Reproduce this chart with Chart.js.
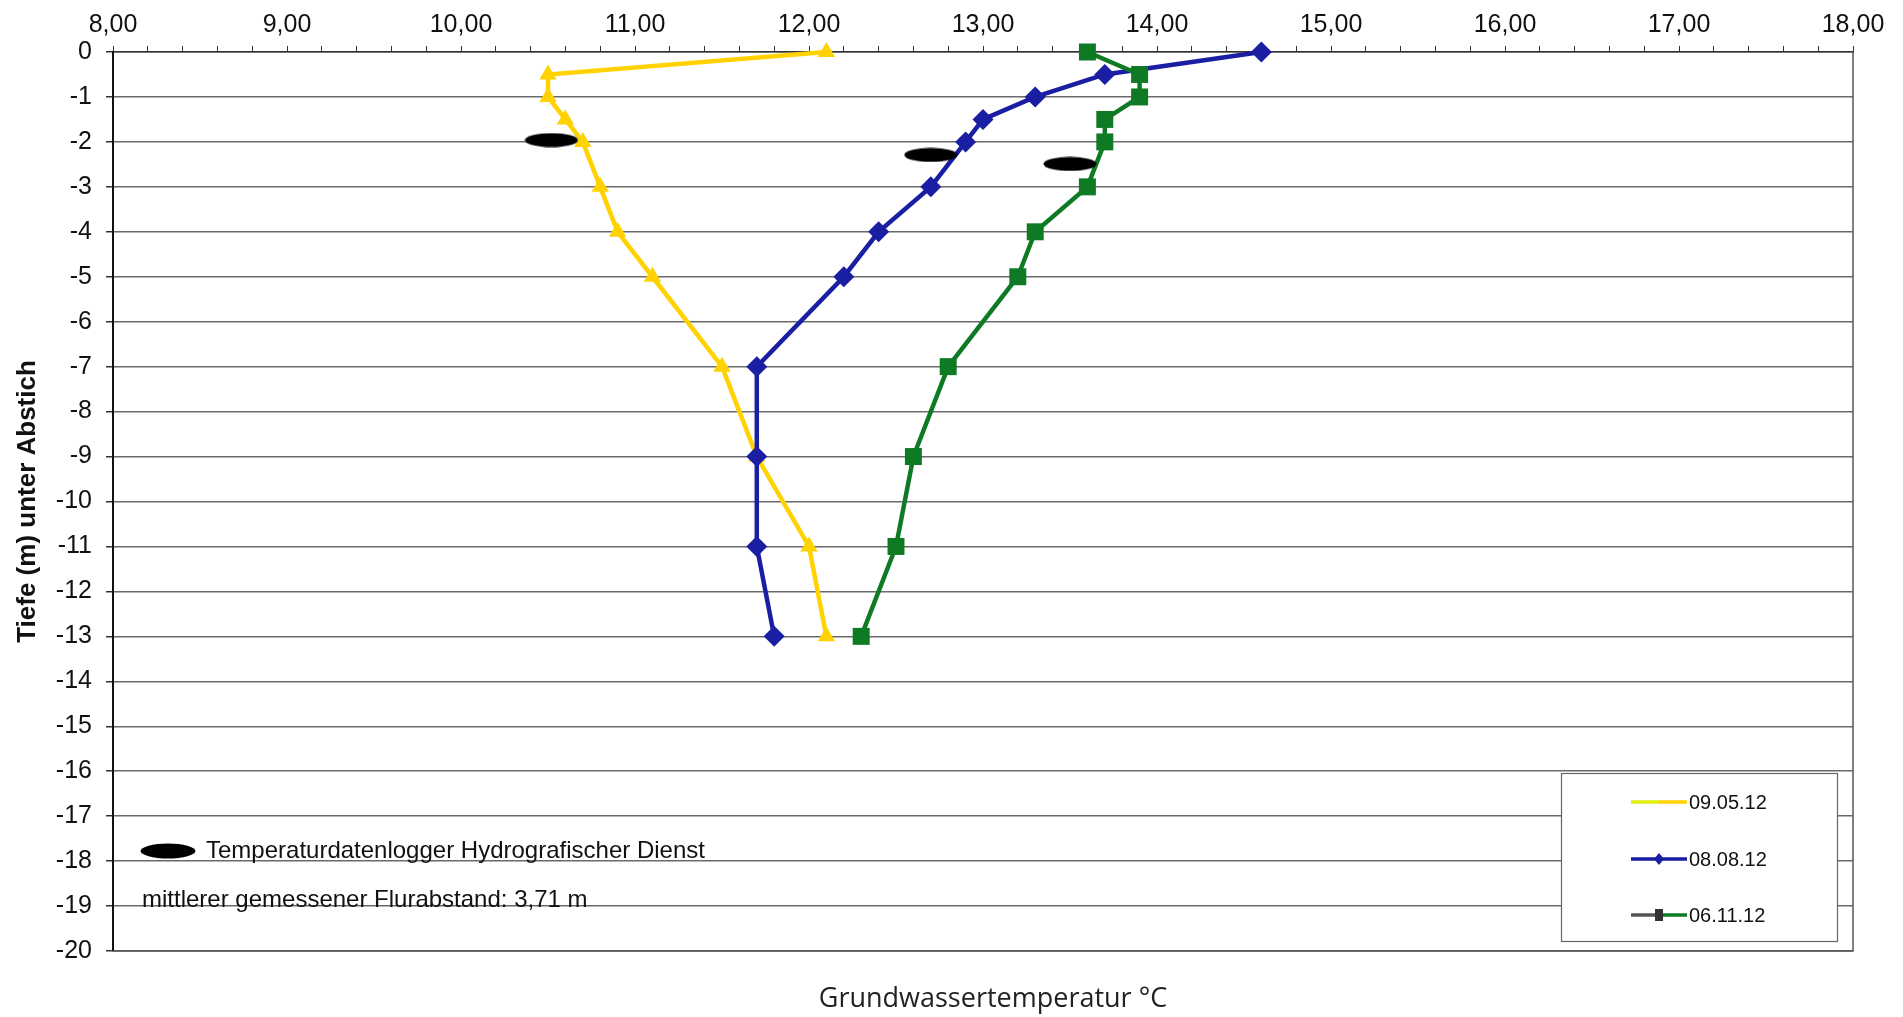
<!DOCTYPE html>
<html>
<head>
<meta charset="utf-8">
<script src="https://cdn.jsdelivr.net/npm/chart.js@4.4.1/dist/chart.umd.min.js"></script>
<style>
  html, body { margin: 0; padding: 0; background: #fff; }
  #chart { display: block; }
</style>
</head>
<body>
<canvas id="chart" width="1903" height="1017" style="width:1903px;height:1017px"></canvas>
<script>
// Depths (m below Abstich) shared by all three measurement dates
const depths = [0, -0.5, -1, -1.5, -2, -3, -4, -5, -7, -9, -11, -13];
const temp090512 = [12.1, 10.5, 10.5, 10.6, 10.7, 10.8, 10.9, 11.1, 11.5, 11.7, 12.0, 12.1];
const temp080812 = [14.6, 13.7, 13.3, 13.0, 12.9, 12.7, 12.4, 12.2, 11.7, 11.7, 11.7, 11.8];
const temp061112 = [13.6, 13.9, 13.9, 13.7, 13.7, 13.6, 13.3, 13.2, 12.8, 12.6, 12.5, 12.3];
const seriesLabels = ['09.05.12', '08.08.12', '06.11.12'];

// Temperature loggers (Hydrografischer Dienst)
const loggerTemps = [10.52, 12.7, 13.5];
const loggerDepths = [-1.96, -2.29, -2.49];

const xTickMin = 8;
const xTickMax = 18;
const yTickMin = -20;
const yTickMax = 0;

const noteLogger = 'Temperaturdatenlogger Hydrografischer Dienst';
const noteFlur = 'mittlerer gemessener Flurabstand: 3,71 m';
const xTitle = 'Grundwassertemperatur °C';
const yTitle = 'Tiefe (m) unter Abstich';

const YELLOW = '#FFD200';
const BLUE = '#1A1EA2';
const GREEN = '#0E7A24';
const FONT = '"Liberation Sans", Arial, sans-serif';

document.addEventListener('DOMContentLoaded', function() {
  const toPoints = (xs, ys) => xs.map((x, i) => ({ x: x, y: ys[i] }));

  // black ellipse used as logger marker
  function makeEllipse(w, h) {
    const c = document.createElement('canvas');
    c.width = w;
    c.height = h;
    const g = c.getContext('2d');
    g.fillStyle = '#000';
    g.beginPath();
    g.ellipse(w / 2, h / 2, w / 2 - 0.5, h / 2 - 0.5, 0, 0, Math.PI * 2);
    g.fill();
    return c;
  }
  const ellipse = makeEllipse(54, 15);
  const legendEllipse = makeEllipse(56, 16);

  // frame, legend box, notes and bottom title
  const extras = {
    id: 'extras',
    afterDraw(chart) {
      const { ctx, chartArea: a } = chart;
      ctx.save();

      ctx.strokeStyle = '#555';
      ctx.lineWidth = 1.5;
      ctx.beginPath();
      ctx.moveTo(a.right, a.top);
      ctx.lineTo(a.right, a.bottom);
      ctx.lineTo(a.left, a.bottom);
      ctx.stroke();

      // legend
      const lx = 1561, ly = 773, lw = 276, lh = 168;
      ctx.fillStyle = '#fff';
      ctx.fillRect(lx, ly, lw, lh);
      ctx.strokeStyle = '#666';
      ctx.lineWidth = 1.2;
      ctx.strokeRect(lx + 0.5, ly + 0.5, lw, lh);

      const rows = [802, 859, 915];
      const left = [ '#E2EE10', BLUE, '#555' ];
      const right = [ YELLOW, BLUE, GREEN ];
      ctx.font = '20px ' + FONT;
      ctx.textBaseline = 'middle';
      ctx.textAlign = 'left';
      rows.forEach((y, i) => {
        ctx.lineWidth = 3.5;
        ctx.strokeStyle = left[i];
        ctx.beginPath(); ctx.moveTo(1631, y); ctx.lineTo(1659, y); ctx.stroke();
        ctx.strokeStyle = right[i];
        ctx.beginPath(); ctx.moveTo(1659, y); ctx.lineTo(1687, y); ctx.stroke();
        if (i === 1) {
          ctx.fillStyle = BLUE;
          ctx.beginPath();
          ctx.moveTo(1659, y - 6); ctx.lineTo(1664, y); ctx.lineTo(1659, y + 6); ctx.lineTo(1654, y);
          ctx.fill();
        } else if (i === 2) {
          ctx.fillStyle = '#333';
          ctx.fillRect(1655, y - 6, 8, 12);
        }
        ctx.fillStyle = '#111';
        ctx.fillText(seriesLabels[i], 1689, y + 1);
      });

      // notes
      ctx.drawImage(legendEllipse, 140, 843);
      ctx.fillStyle = '#111';
      ctx.font = '24px ' + FONT;
      ctx.fillText(noteLogger, 206, 851);
      ctx.fillText(noteFlur, 142, 900);

      // x title below the plot
      ctx.font = '27px "Open Sans", ' + FONT;
      ctx.textAlign = 'center';
      ctx.fillStyle = '#222';
      ctx.fillText(xTitle, 993, 999);

      ctx.restore();
    }
  };

  const lineSet = (label, temps, color, style, radius, order) => ({
    label: label,
    data: toPoints(temps, depths),
    borderColor: color,
    backgroundColor: color,
    borderWidth: 4.5,
    pointStyle: style,
    pointRadius: radius,
    pointBorderWidth: 0,
    showLine: true,
    tension: 0,
    clip: false,
    order: order
  });

  new Chart(document.getElementById('chart'), {
    type: 'scatter',
    data: {
      datasets: [
        lineSet(seriesLabels[0], temp090512, YELLOW, 'triangle', 10, 3),
        lineSet(seriesLabels[1], temp080812, BLUE, 'rectRot', 10.5, 2),
        lineSet(seriesLabels[2], temp061112, GREEN, 'rect', 12, 1),
        {
          label: 'Logger',
          data: toPoints(loggerTemps, loggerDepths),
          pointStyle: ellipse,
          pointRadius: 10,
          showLine: false,
          clip: false,
          order: 0
        }
      ]
    },
    options: {
      responsive: false,
      animation: false,
      devicePixelRatio: 1,
      layout: { padding: { left: 0, top: 0, right: 50, bottom: 66 } },
      plugins: {
        legend: { display: false },
        tooltip: { enabled: false }
      },
      scales: {
        x: {
          type: 'linear',
          position: 'top',
          min: xTickMin,
          max: xTickMax,
          afterFit: (scale) => { scale.height = 52; },
          grid: {
            drawOnChartArea: false,
            drawTicks: true,
            tickLength: 6,
            tickColor: '#333',
            tickWidth: 1
          },
          border: { color: '#333', width: 1.5 },
          ticks: {
            stepSize: 0.2,
            autoSkip: false,
            maxRotation: 0,
            padding: 6,
            color: '#111',
            font: { family: FONT, size: 25 },
            callback: function(v) {
              return Math.abs(v - Math.round(v)) < 1e-6 ? v.toFixed(2).replace('.', ',') : '';
            }
          }
        },
        y: {
          type: 'linear',
          min: yTickMin,
          max: yTickMax,
          afterFit: (scale) => { scale.width = 113; },
          grid: {
            color: '#6a6a6a',
            lineWidth: 1.5,
            tickLength: 7,
            tickColor: '#333'
          },
          border: { color: '#111', width: 2 },
          title: {
            display: true,
            text: yTitle,
            color: '#111',
            font: { family: FONT, size: 26, weight: 'bold' },
            padding: { top: 12, bottom: 0 }
          },
          ticks: {
            stepSize: 1,
            autoSkip: false,
            padding: 14,
            color: '#111',
            font: { family: FONT, size: 25 },
            callback: (v) => String(v)
          }
        }
      }
    },
    plugins: [extras]
  });
});
</script>
</body>
</html>
